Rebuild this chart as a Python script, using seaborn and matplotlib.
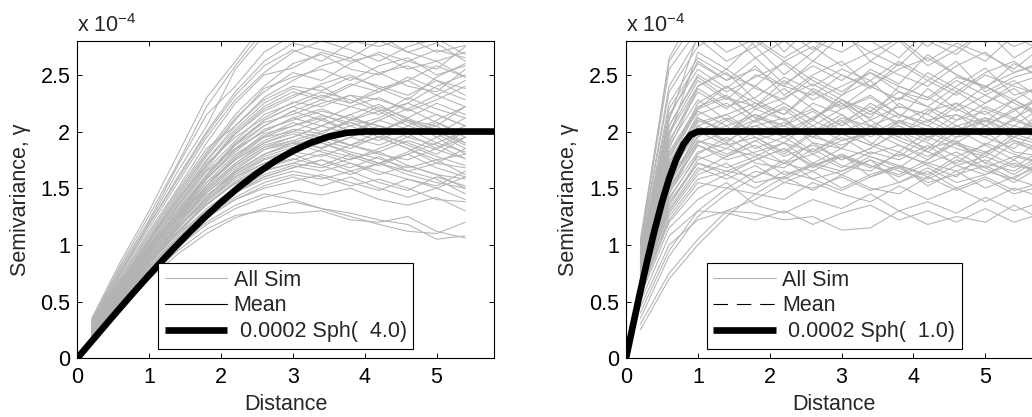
import numpy as np
import pandas as pd
import matplotlib
matplotlib.use("Agg")
import matplotlib.pyplot as plt
from matplotlib.lines import Line2D
from matplotlib.ticker import FormatStrFormatter
import seaborn as sns

# ---------------- data (semivariance in units of 1e-6, i.e. 100 = 1 x 10^-4) -------------
dist_left = [0.2, 0.6, 1.0, 1.4, 1.8, 2.2, 2.6, 3.0, 3.4, 3.8, 4.2, 4.6, 5.0, 5.4]
sims_left = [
    [35, 85, 130, 180, 230, 262, 295, 300, 310, 305, 298, 300, 290, 285],
    [32, 78, 120, 165, 205, 255, 285, 292, 288, 280, 275, 283, 270, 276],
    [30, 72, 112, 150, 190, 225, 250, 256, 270, 262, 268, 255, 262, 270],
    [28, 68, 105, 142, 178, 210, 238, 248, 255, 245, 258, 265, 250, 258],
    [30, 70, 110, 148, 185, 205, 228, 240, 236, 248, 240, 232, 245, 238],
    [26, 62, 98, 135, 168, 198, 220, 232, 240, 225, 235, 248, 238, 228],
    [28, 66, 102, 138, 172, 195, 212, 226, 222, 232, 228, 220, 232, 245],
    [25, 60, 95, 128, 160, 188, 205, 218, 228, 222, 215, 230, 220, 212],
    [27, 64, 100, 132, 165, 185, 200, 212, 205, 215, 224, 210, 205, 222],
    [24, 58, 92, 125, 152, 178, 198, 205, 214, 208, 200, 212, 225, 215],
    [26, 60, 94, 126, 155, 175, 192, 202, 198, 210, 205, 195, 208, 198],
    [23, 55, 88, 118, 148, 170, 186, 195, 205, 198, 210, 202, 190, 200],
    [25, 58, 90, 120, 146, 165, 180, 190, 186, 195, 188, 198, 205, 190],
    [22, 54, 86, 115, 140, 162, 178, 186, 195, 188, 182, 192, 184, 176],
    [24, 56, 88, 116, 138, 158, 172, 182, 178, 188, 195, 185, 172, 168],
    [22, 52, 84, 112, 135, 155, 168, 175, 184, 178, 170, 180, 190, 182],
    [21, 50, 80, 108, 132, 150, 165, 172, 168, 176, 182, 170, 162, 158],
    [23, 54, 85, 110, 130, 146, 160, 168, 175, 165, 172, 162, 155, 150],
    [20, 48, 78, 104, 126, 142, 155, 162, 158, 165, 155, 148, 160, 152],
    [22, 50, 80, 105, 124, 140, 150, 156, 162, 155, 148, 158, 150, 140],
    [20, 46, 74, 98, 118, 132, 142, 148, 144, 150, 140, 135, 142, 130],
    [19, 44, 70, 92, 110, 124, 132, 138, 132, 128, 122, 118, 105, 108],
    [21, 48, 76, 100, 120, 135, 145, 140, 132, 125, 118, 112, 110, 120],
    [20, 45, 72, 95, 114, 126, 130, 128, 130, 122, 120, 125, 112, 106],
    [33, 80, 122, 170, 215, 240, 270, 285, 295, 300, 290, 280, 295, 300],
    [31, 75, 118, 158, 198, 232, 258, 272, 262, 278, 285, 270, 262, 248],
    [29, 70, 108, 146, 182, 215, 240, 260, 268, 255, 250, 262, 272, 265],
    [27, 65, 102, 140, 175, 205, 230, 245, 258, 265, 252, 240, 235, 255],
    [28, 67, 104, 140, 170, 200, 222, 235, 228, 240, 252, 258, 245, 232],
    [26, 63, 99, 134, 166, 192, 215, 225, 235, 228, 218, 225, 240, 250],
    [25, 61, 96, 130, 160, 188, 210, 222, 215, 205, 212, 225, 215, 205],
    [27, 63, 98, 130, 162, 190, 208, 215, 225, 232, 220, 208, 198, 212],
    [24, 57, 92, 124, 155, 180, 196, 208, 200, 210, 218, 205, 198, 185],
    [26, 59, 93, 124, 152, 176, 195, 200, 210, 200, 192, 205, 215, 205],
    [23, 55, 90, 120, 150, 172, 190, 198, 192, 185, 196, 190, 180, 195],
    [25, 57, 90, 122, 148, 170, 186, 192, 200, 208, 198, 188, 178, 170],
    [22, 53, 86, 116, 142, 164, 180, 190, 182, 175, 185, 195, 188, 176],
    [24, 55, 88, 118, 144, 162, 176, 184, 190, 182, 176, 168, 175, 162],
    [21, 52, 82, 110, 136, 156, 170, 176, 170, 180, 172, 165, 158, 145],
    [23, 53, 84, 112, 136, 154, 166, 172, 180, 172, 162, 170, 162, 150],
    [22, 51, 80, 106, 128, 146, 158, 165, 160, 152, 158, 150, 140, 138],
    [20, 48, 76, 102, 124, 140, 152, 160, 152, 160, 150, 142, 150, 160],
    [24, 58, 92, 126, 158, 185, 205, 218, 210, 222, 230, 218, 228, 240],
    [26, 62, 97, 130, 162, 190, 210, 222, 232, 225, 238, 245, 232, 222],
    [25, 60, 94, 126, 158, 182, 202, 210, 218, 212, 205, 198, 210, 222],
    [34, 82, 126, 172, 222, 258, 290, 305, 298, 290, 302, 295, 285, 280],
    [30, 74, 115, 155, 195, 228, 252, 270, 280, 272, 262, 275, 282, 268],
    [29, 68, 106, 144, 180, 212, 235, 252, 245, 260, 270, 262, 255, 275],
    [27, 64, 100, 136, 170, 198, 218, 230, 242, 250, 238, 228, 248, 260],
    [24, 56, 90, 122, 152, 178, 195, 205, 212, 200, 210, 220, 208, 195],
    [22, 52, 84, 114, 142, 166, 184, 192, 185, 195, 205, 198, 185, 200],
    [25, 58, 92, 124, 150, 172, 188, 195, 205, 215, 200, 210, 195, 180],
    [21, 50, 82, 112, 138, 160, 175, 182, 190, 180, 172, 182, 195, 205],
    [23, 54, 86, 116, 140, 160, 172, 180, 170, 162, 172, 180, 168, 160],
    [20, 48, 78, 106, 130, 148, 160, 168, 175, 168, 178, 165, 172, 185],
    [26, 62, 96, 128, 158, 184, 200, 212, 220, 210, 222, 212, 200, 190],
    [28, 66, 104, 140, 174, 202, 225, 238, 230, 242, 235, 245, 258, 248],
    [24, 56, 88, 118, 146, 168, 184, 190, 198, 188, 180, 175, 185, 195],
    [22, 50, 80, 106, 130, 150, 162, 170, 165, 172, 165, 158, 152, 165],
    [25, 60, 94, 124, 152, 175, 190, 200, 195, 188, 200, 210, 200, 188],
    [31, 76, 118, 160, 200, 235, 262, 278, 272, 265, 280, 270, 278, 262],
    [23, 54, 86, 115, 142, 164, 180, 188, 196, 205, 195, 185, 175, 180],
]

dist_right = [0.2, 0.6, 1.0, 1.4, 1.8, 2.2, 2.6, 3.0, 3.4, 3.8, 4.2, 4.6, 5.0, 5.4, 5.8]
sims_right = [
    [105, 262, 300, 285, 300, 270, 295, 280, 300, 290, 275, 295, 285, 300, 290],
    [100, 240, 282, 262, 275, 250, 270, 290, 262, 280, 258, 272, 290, 265, 280],
    [95, 225, 265, 250, 240, 262, 245, 232, 255, 242, 268, 250, 238, 260, 248],
    [92, 215, 255, 238, 258, 232, 250, 262, 240, 228, 245, 262, 235, 248, 255],
    [90, 205, 248, 230, 222, 245, 228, 240, 252, 235, 222, 240, 256, 232, 240],
    [88, 198, 240, 252, 228, 215, 238, 225, 212, 240, 230, 218, 232, 245, 228],
    [85, 192, 235, 220, 240, 225, 210, 232, 245, 222, 215, 235, 220, 210, 235],
    [85, 188, 228, 210, 222, 238, 220, 205, 225, 212, 238, 220, 208, 228, 215],
    [82, 182, 222, 232, 212, 205, 225, 215, 200, 225, 210, 198, 222, 212, 200],
    [80, 178, 218, 205, 215, 200, 212, 228, 210, 195, 218, 225, 205, 195, 220],
    [80, 172, 212, 198, 220, 210, 195, 208, 222, 205, 192, 210, 218, 200, 208],
    [78, 170, 208, 215, 198, 190, 210, 198, 188, 210, 202, 190, 205, 220, 198],
    [76, 165, 205, 192, 205, 212, 190, 185, 205, 195, 185, 205, 195, 185, 205],
    [75, 162, 200, 188, 195, 182, 200, 210, 190, 182, 200, 188, 180, 198, 190],
    [74, 158, 196, 205, 185, 195, 180, 192, 200, 188, 175, 195, 200, 182, 178],
    [72, 155, 192, 180, 192, 178, 188, 175, 185, 200, 190, 178, 188, 175, 195],
    [70, 150, 188, 175, 182, 190, 172, 185, 178, 168, 185, 192, 172, 190, 182],
    [70, 146, 182, 190, 172, 168, 185, 170, 165, 182, 170, 160, 182, 170, 165],
    [68, 142, 178, 168, 178, 162, 170, 180, 160, 170, 162, 178, 165, 158, 175],
    [66, 138, 172, 165, 160, 175, 158, 165, 175, 155, 168, 155, 162, 175, 160],
    [65, 132, 168, 158, 170, 155, 165, 150, 162, 170, 152, 165, 150, 160, 170],
    [62, 128, 162, 172, 155, 160, 148, 162, 150, 145, 160, 148, 158, 145, 152],
    [60, 122, 155, 150, 145, 140, 155, 145, 138, 152, 140, 150, 138, 150, 142],
    [55, 115, 140, 155, 135, 128, 140, 132, 145, 130, 138, 128, 142, 130, 138],
    [50, 108, 130, 128, 122, 130, 118, 128, 135, 122, 130, 120, 132, 120, 128],
    [45, 100, 122, 130, 128, 122, 125, 113, 115, 130, 118, 125, 120, 135, 122],
    [30, 75, 105, 130, 140, 155, 150, 160, 148, 155, 165, 150, 160, 148, 155],
    [25, 70, 100, 125, 145, 160, 172, 165, 178, 170, 160, 175, 168, 155, 170],
    [102, 255, 290, 270, 282, 265, 280, 270, 285, 300, 280, 268, 290, 275, 285],
    [98, 235, 275, 290, 265, 280, 262, 285, 270, 258, 282, 275, 262, 285, 270],
    [93, 220, 260, 245, 265, 242, 258, 245, 262, 250, 240, 258, 270, 252, 260],
    [87, 200, 245, 228, 250, 240, 232, 250, 238, 260, 245, 232, 250, 240, 232],
    [83, 185, 238, 222, 230, 248, 236, 222, 240, 228, 252, 238, 225, 242, 250],
    [79, 175, 225, 240, 220, 230, 242, 228, 218, 235, 228, 245, 232, 220, 228],
    [77, 168, 215, 225, 208, 222, 205, 220, 232, 215, 208, 225, 215, 228, 212],
    [73, 160, 210, 200, 215, 205, 218, 200, 210, 222, 215, 200, 212, 205, 222],
    [71, 152, 200, 212, 198, 208, 195, 212, 205, 198, 210, 215, 198, 210, 200],
    [67, 145, 190, 200, 210, 195, 205, 192, 198, 210, 195, 205, 212, 195, 188],
    [64, 135, 175, 185, 178, 190, 182, 195, 180, 188, 178, 190, 182, 192, 180],
    [61, 130, 165, 178, 188, 172, 180, 168, 182, 175, 188, 170, 178, 168, 185],
    [58, 125, 158, 165, 175, 185, 170, 178, 168, 180, 172, 182, 168, 178, 172],
    [40, 95, 130, 150, 165, 158, 170, 162, 175, 165, 158, 170, 162, 172, 165],
    [35, 90, 125, 145, 160, 172, 165, 178, 170, 160, 172, 165, 175, 162, 178],
    [85, 195, 270, 255, 280, 262, 275, 258, 270, 282, 262, 278, 268, 255, 275],
    [90, 210, 285, 300, 275, 290, 272, 295, 280, 265, 290, 300, 278, 292, 285],
    [100, 265, 310, 295, 305, 290, 300, 310, 295, 305, 290, 300, 310, 295, 300],
    [80, 180, 220, 240, 225, 215, 235, 220, 230, 215, 205, 222, 240, 225, 212],
    [75, 165, 205, 190, 210, 220, 200, 215, 195, 208, 220, 205, 195, 212, 225],
    [70, 155, 195, 210, 195, 180, 198, 185, 205, 192, 182, 200, 210, 192, 185],
    [68, 148, 188, 178, 192, 200, 182, 198, 188, 178, 195, 185, 178, 195, 205],
    [65, 140, 180, 195, 180, 172, 190, 175, 185, 200, 182, 172, 190, 180, 172],
    [62, 135, 172, 162, 175, 185, 168, 180, 170, 162, 175, 190, 172, 165, 180],
    [88, 205, 250, 235, 248, 260, 240, 255, 245, 262, 248, 235, 252, 262, 245],
    [84, 190, 240, 255, 238, 228, 248, 235, 252, 240, 230, 248, 240, 228, 242],
    [78, 172, 220, 230, 212, 225, 210, 228, 215, 230, 222, 210, 225, 238, 220],
    [73, 158, 205, 215, 225, 210, 220, 205, 218, 208, 198, 215, 205, 218, 232],
    [57, 120, 150, 162, 150, 165, 158, 148, 160, 168, 155, 162, 170, 158, 150],
    [92, 212, 262, 245, 255, 240, 262, 250, 240, 255, 265, 250, 240, 252, 262],
    [76, 168, 212, 200, 205, 195, 212, 225, 205, 215, 205, 195, 210, 200, 212],
    [69, 150, 192, 185, 200, 205, 195, 188, 198, 205, 195, 202, 188, 205, 198],
]

# fitted spherical model (units of 1e-4)
model_left_h = [0, 0.25, 0.5, 0.75, 1.0, 1.25, 1.5, 1.75, 2.0, 2.25, 2.5, 2.75,
                3.0, 3.25, 3.5, 3.75, 4.0, 5.8]
model_left_g = [0, 0.187, 0.373, 0.556, 0.734, 0.907, 1.072, 1.229, 1.375, 1.510,
                1.631, 1.738, 1.828, 1.901, 1.955, 1.989, 2.0, 2.0]
model_right_h = [0, 0.1, 0.2, 0.3, 0.4, 0.5, 0.6, 0.7, 0.8, 0.9, 1.0, 5.8]
model_right_g = [0, 0.299, 0.592, 0.873, 1.136, 1.375, 1.584, 1.757, 1.888, 1.971, 2.0, 2.0]

labels_left = ["All Sim", "Mean", " 0.0002 Sph(  4.0)"]
labels_right = ["All Sim", "Mean", " 0.0002 Sph(  1.0)"]
mean_styles = ["-", (0, (13, 8))]

# ---------------- plotting ----------------
sns.set_style("ticks")
plt.rcParams["font.family"] = ["Liberation Sans", "DejaVu Sans"]
plt.rcParams["mathtext.fontset"] = "custom"
plt.rcParams["mathtext.rm"] = "Liberation Sans"
plt.rcParams["mathtext.it"] = "Liberation Sans:italic"

GRAY = "#b3b3b3"
FS = 15.5
THICK = 4.8

fig = plt.figure(figsize=(10.32, 4.17), dpi=100)
ax1 = fig.add_axes([0.0749, 0.141, 0.4038, 0.761])
ax2 = fig.add_axes([0.6066, 0.141, 0.4038, 0.761])


def long_df(dist, sims):
    rows = []
    for i, s in enumerate(sims):
        for d, v in zip(dist, s):
            rows.append((i, d, v / 100.0))
    return pd.DataFrame(rows, columns=["sim", "dist", "gamma"])


panels = [
    (ax1, dist_left, sims_left, model_left_h, model_left_g, labels_left, mean_styles[0]),
    (ax2, dist_right, sims_right, model_right_h, model_right_g, labels_right, mean_styles[1]),
]

for ax, dist, sims, mh, mg, labels, mstyle in panels:
    df = long_df(dist, sims)
    sns.lineplot(data=df, x="dist", y="gamma", units="sim", estimator=None,
                 color=GRAY, lw=0.75, ax=ax, legend=False, sort=False)
    mdf = pd.DataFrame({"h": mh, "g": mg})
    sns.lineplot(data=mdf, x="h", y="g", color="black", lw=THICK, ax=ax,
                 legend=False, solid_capstyle="butt")
    ax.set_xlim(0, 5.8)
    ax.set_ylim(0, 2.8)
    ax.set_xticks([0, 1, 2, 3, 4, 5])
    ax.set_yticks([0, 0.5, 1, 1.5, 2, 2.5])
    ax.yaxis.set_major_formatter(FormatStrFormatter("%g"))
    ax.tick_params(direction="in", length=3.5, width=0.7, top=True, right=True,
                   labelsize=FS, colors="black")
    ax.tick_params(axis="x", pad=6)
    ax.tick_params(axis="y", pad=5)
    for sp in ax.spines.values():
        sp.set_visible(True)
        sp.set_color("black")
        sp.set_linewidth(0.8)
    ax.set_xlabel("Distance", fontsize=FS, labelpad=5)
    ax.set_ylabel("Semivariance, γ", fontsize=FS, labelpad=7)
    ax.text(0.0, 1.012, r"x 10$^{-4}$", transform=ax.transAxes, fontsize=FS,
            ha="left", va="bottom")
    handles = [Line2D([], [], color=GRAY, lw=0.8),
               Line2D([], [], color="black", lw=0.8, linestyle=mstyle),
               Line2D([], [], color="black", lw=THICK, solid_capstyle="butt")]
    leg = ax.legend(handles, labels, loc="lower center", bbox_to_anchor=(0.5, 0.03),
                    fontsize=FS, frameon=True, fancybox=False, framealpha=1,
                    edgecolor="black", handlelength=2.9, labelspacing=0.22,
                    borderpad=0.3, handletextpad=0.3, borderaxespad=0)
    leg.get_frame().set_linewidth(0.8)

fig.savefig("out.png", dpi=100)
